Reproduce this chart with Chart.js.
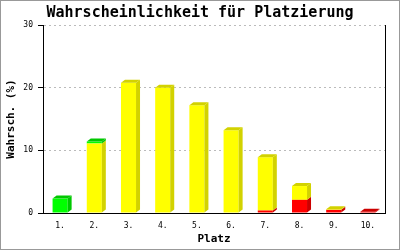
<!DOCTYPE html>
<html>
<head>
<meta charset="utf-8">
<script src="https://cdn.jsdelivr.net/npm/chart.js@4/dist/chart.umd.min.js"></script>
<style>
  body { margin: 0; background: #fff; }
  #wrap { width: 400px; height: 250px; position: relative; }
</style>
</head>
<body>
<div id="wrap"><canvas id="myChart"></canvas></div>
<script>
// values (percent), stacked bottom to top: red, yellow, green
var places = ['1.', '2.', '3.', '4.', '5.', '6.', '7.', '8.', '9.', '10.'];
var redValues = [0, 0, 0, 0, 0, 0, 0.4, 2.1, 0.5, 0.2];
var yellowValues = [0, 11.1, 20.8, 20.0, 17.2, 13.2, 8.5, 2.2, 0.1, 0];
var greenValues = [2.3, 0.3, 0, 0, 0, 0, 0, 0, 0, 0];
var yTicks = [0, 10, 20, 30];

var mono = 'DejaVu Sans Mono';
var DX = 4, DY = 3;

// side and top faces for the pseudo 3D look
var bars3d = {
    id: 'bars3d',
    afterDatasetsDraw: function (chart) {
        var ctx = chart.ctx;
        var n = chart.data.labels.length;
        ctx.save();
        for (var j = 0; j < n; j++) {
            var topMost = null;
            for (var i = 0; i < chart.data.datasets.length; i++) {
                var ds = chart.data.datasets[i];
                if (!ds.data[j]) continue;
                var bar = chart.getDatasetMeta(i).data[j];
                var x1 = bar.x + bar.width / 2;
                ctx.fillStyle = ds.sideColor;
                ctx.beginPath();
                ctx.moveTo(x1, bar.base);
                ctx.lineTo(x1, bar.y);
                ctx.lineTo(x1 + DX, bar.y - DY);
                ctx.lineTo(x1 + DX, bar.base - DY);
                ctx.closePath();
                ctx.fill();
                topMost = {bar: bar, color: ds.sideColor};
            }
            if (topMost) {
                var b = topMost.bar;
                var x0 = b.x - b.width / 2, x2 = b.x + b.width / 2;
                ctx.fillStyle = topMost.color;
                ctx.beginPath();
                ctx.moveTo(x0, b.y);
                ctx.lineTo(x0 + DX, b.y - DY);
                ctx.lineTo(x2 + DX, b.y - DY);
                ctx.lineTo(x2, b.y);
                ctx.closePath();
                ctx.fill();
            }
        }
        ctx.restore();
    }
};

var frame = {
    id: 'frame',
    beforeDraw: function (chart) {
        var ctx = chart.ctx;
        ctx.save();
        ctx.fillStyle = '#fff';
        ctx.fillRect(0, 0, chart.width, chart.height);
        ctx.restore();
    },
    afterDraw: function (chart) {
        var ctx = chart.ctx;
        ctx.save();
        ctx.strokeStyle = '#999';
        ctx.lineWidth = 1;
        ctx.strokeRect(0.5, 0.5, chart.width - 1, chart.height - 1);
        ctx.restore();
    }
};

var ctx = document.getElementById('myChart');
var data = {
    labels: places,
    datasets: [
        {label: 'rot', data: redValues, backgroundColor: '#ff0000', sideColor: '#cc0000'},
        {label: 'gelb', data: yellowValues, backgroundColor: '#ffff00', sideColor: '#d2d200'},
        {label: 'grün', data: greenValues, backgroundColor: '#00ff00', sideColor: '#00c800'}
    ]
};
var config = {
    type: 'bar',
    data: data,
    plugins: [frame, bars3d],
    options: {
        responsive: true,
        maintainAspectRatio: false,
        animation: false,
        layout: {padding: 0},
        datasets: {bar: {categoryPercentage: 1, barPercentage: 0.44, borderWidth: 0}},
        plugins: {
            legend: {display: false},
            tooltip: {enabled: false},
            title: {
                display: true,
                text: 'Wahrscheinlichkeit für Platzierung',
                color: '#000',
                font: {family: mono, size: 15, weight: 'bold'},
                padding: {top: 4, bottom: 3}
            }
        },
        scales: {
            x: {
                stacked: true,
                grid: {display: false, drawTicks: false},
                border: {display: true, color: '#000', width: 1},
                ticks: {color: '#000', font: {family: mono, size: 8}, padding: 8, maxRotation: 0},
                title: {
                    display: true, text: 'Platz', color: '#000',
                    font: {family: mono, size: 11, weight: 'bold'},
                    padding: {top: 0, bottom: 4}
                },
                afterFit: function (scale) { scale.height = 37; }
            },
            y: {
                stacked: true,
                min: 0,
                max: 30,
                afterBuildTicks: function (scale) {
                    scale.ticks = yTicks.map(function (v) { return {value: v}; });
                },
                grid: {color: '#bbbbbb', tickColor: '#000', tickLength: 5, lineWidth: 1},
                border: {display: true, color: '#000', width: 1, dash: [2, 3]},
                ticks: {color: '#000', font: {family: mono, size: 8}, padding: 5},
                title: {
                    display: true, text: 'Wahrsch. (%)', color: '#000',
                    font: {family: mono, size: 11, weight: 'bold'},
                    padding: {top: 5, bottom: 0}
                },
                afterFit: function (scale) { scale.width = 43; }
            },
            y2: {
                position: 'right',
                display: true,
                grid: {display: false, drawTicks: false},
                border: {display: true, color: '#000', width: 1},
                ticks: {display: false},
                afterFit: function (scale) { scale.width = 15; }
            }
        }
    }
};
var currentChart = new Chart(ctx, config);
</script>
</body>
</html>
